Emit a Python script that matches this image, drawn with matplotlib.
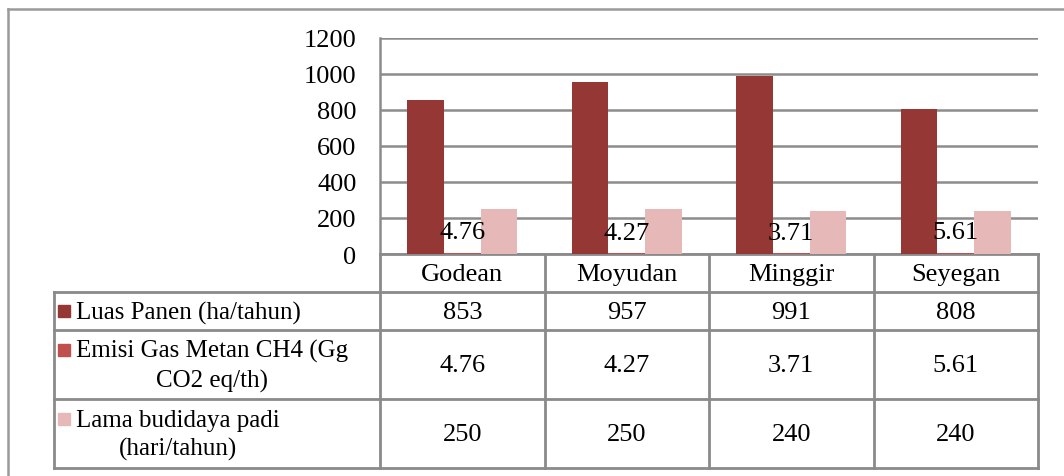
#!/usr/bin/env python3
"""
Column chart with data table: Luas Panen, Emisi CH4 and Lama budidaya padi.
"""

import numpy as np
import matplotlib
matplotlib.use("Agg")
import matplotlib.pyplot as plt
from matplotlib.lines import Line2D
from matplotlib.patches import Rectangle

categories = ["Godean", "Moyudan", "Minggir", "Seyegan"]
luas_panen = [853, 957, 991, 808]
emisi_ch4 = [4.76, 4.27, 3.71, 5.61]
lama_budidaya = [250, 250, 240, 240]
series_labels = ["Luas Panen (ha/tahun)",
                 "Emisi Gas Metan CH4 (Gg\nCO2 eq/th)",
                 "Lama budidaya padi\n(hari/tahun)"]
y_ticks = [0, 200, 400, 600, 800, 1000, 1200]

colors = ["#953735", "#C0504D", "#E6B9B8"]
grid_c = "#8C8C8C"
fs = 19
fs_lab = 18

plt.rcParams['font.family'] = ['Liberation Serif', 'DejaVu Serif']

W, H = 1064, 477
fig = plt.figure(figsize=(W / 100, H / 100), dpi=100)

# pixel layout
px_left, px_right = 380, 1038
px_top, px_zero = 39, 255
row_edges = [255, 293, 331, 400, 469]
tab_left = 54

# main plot area
ax = fig.add_axes([px_left / W, 1 - px_zero / H, (px_right - px_left) / W,
                   (px_zero - px_top) / H])
n = len(categories)
x = np.arange(n)
bw = 1 / 4.5
series = [luas_panen, emisi_ch4, lama_budidaya]
for i, vals in enumerate(series):
    ax.bar(x + (i - 1) * bw, vals, bw, color=colors[i], zorder=3)
for xi, v in zip(x, emisi_ch4):
    ax.annotate(f"{v:.2f}", (xi, v), xytext=(0, 7), textcoords="offset points",
                ha="center", va="bottom", fontsize=fs, zorder=4)

ax.set_xlim(-0.5, n - 0.5)
ax.set_ylim(0, 1200)
ax.set_yticks(y_ticks)
ax.set_yticklabels([str(t) for t in y_ticks], fontsize=fs)
ax.tick_params(axis="y", length=0, pad=17)
ax.set_xticks([])
ax.grid(axis="y", color=grid_c, linewidth=1.8, zorder=0)
for s in ["top", "right", "bottom"]:
    ax.spines[s].set_visible(False)
ax.spines["left"].set_color(grid_c)
ax.spines["left"].set_linewidth(1.8)
ax.set_facecolor("none")

# overlay for the data table and outer frame, in pixel coordinates
ov = fig.add_axes([0, 0, 1, 1])
ov.set_xlim(0, W)
ov.set_ylim(H, 0)
ov.axis("off")
ov.set_zorder(-1)

lw = 2.0
tc = "#8A8A8A"
# outer chart frame
ov.add_line(Line2D([8, 8], [10, H], color="#9A9A9A", lw=1.8))
ov.add_line(Line2D([8, W], [10, 10], color="#9A9A9A", lw=1.8))

col_w = (px_right - px_left) / n
col_edges = [px_left + i * col_w for i in range(n + 1)]

# horizontal lines
ov.add_line(Line2D([px_left, px_right], [row_edges[0]] * 2, color=tc, lw=lw))
for y in row_edges[1:]:
    ov.add_line(Line2D([tab_left, px_right], [y, y], color=tc, lw=lw))
# vertical lines
ov.add_line(Line2D([tab_left, tab_left], [row_edges[1], row_edges[-1]], color=tc, lw=lw))
for xe in col_edges[1:]:
    ov.add_line(Line2D([xe, xe], [row_edges[0], row_edges[-1]], color=tc, lw=lw))
ov.add_line(Line2D([px_left, px_left], [px_zero, row_edges[-1]], color=tc, lw=lw))

# header row
for i, c in enumerate(categories):
    cx = (col_edges[i] + col_edges[i + 1]) / 2
    ov.text(cx, (row_edges[0] + row_edges[1]) / 2 + 1, c, ha="center",
            va="center", fontsize=fs)

# data rows
for r, (lab, vals) in enumerate(zip(series_labels, series)):
    y0, y1 = row_edges[r + 1], row_edges[r + 2]
    cy = (y0 + y1) / 2
    n_lines = lab.count("\n") + 1
    first_y = cy - 15 * (n_lines - 1)
    ov.add_patch(Rectangle((58, first_y - 6), 12, 12, color=colors[r]))
    ov.text(76, cy + 1, lab, ha="left", va="center", fontsize=fs_lab,
            multialignment="center", linespacing=1.35)
    for i, v in enumerate(vals):
        cx = (col_edges[i] + col_edges[i + 1]) / 2
        txt = f"{v:.2f}" if isinstance(v, float) else str(v)
        ov.text(cx, cy + 1, txt, ha="center", va="center", fontsize=fs)

fig.savefig("out.png", dpi=100)
